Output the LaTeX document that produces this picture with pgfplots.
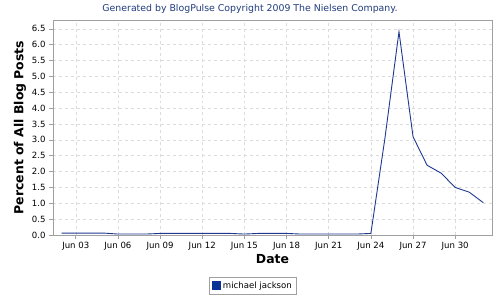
\documentclass[border=0pt]{standalone}
\usepackage{fontspec}
\setmainfont{DejaVu Sans}
\usepackage{pgfplots}
\pgfplotsset{compat=1.18}
\definecolor{titleblue}{RGB}{32,60,125}
\definecolor{lineblue}{RGB}{30,55,145}
\definecolor{legblue}{RGB}{10,50,150}
\definecolor{gridgray}{RGB}{220,220,220}
\definecolor{framegray}{RGB}{160,160,160}
\begin{document}
\begin{tikzpicture}
\path[use as bounding box] (0,0) rectangle (500bp,300bp);
\node[text=titleblue, font=\fontsize{9.4}{11}\selectfont] at (250bp,291bp) {Generated by BlogPulse Copyright 2009 The Nielsen Company.};
\begin{axis}[
  at={(53bp,65bp)}, anchor=south west,
  scale only axis, width=439bp, height=215bp,
  xmin=1.38, xmax=32.62, ymin=0, ymax=6.78,
  xtick={3,6,9,12,15,18,21,24,27,30},
  xticklabels={Jun 03,Jun 06,Jun 09,Jun 12,Jun 15,Jun 18,Jun 21,Jun 24,Jun 27,Jun 30},
  ytick={0,0.5,...,6.5},
  yticklabel style={/pgf/number format/.cd, fixed, fixed zerofill, precision=1},
  /pgf/number format/assume math mode=true,
  ticklabel style={font=\fontsize{8.6}{10}\selectfont},
  tick align=outside, major tick length=4bp,
  tick style={framegray, line width=0.6pt},
  xtick pos=bottom, ytick pos=left,
  axis line style={framegray, line width=0.8pt},
  grid=major,
  major grid style={gridgray, dashed, line width=0.5pt},
  xlabel={Date}, ylabel={Percent of All Blog Posts},
  label style={font=\bfseries\fontsize{12.5}{14}\selectfont},
  xlabel style={yshift=3bp},
  ylabel style={yshift=-1bp},
  legend style={at={(0.4555,-0.195)}, anchor=north, draw=framegray, font=\fontsize{8.6}{10}\selectfont, inner sep=2.5pt, row sep=0pt},
  legend image code/.code={\fill[legblue] (0bp,-4bp) rectangle (8bp,4bp);},
]
\addplot[lineblue, line width=0.9pt] coordinates {
(2,0.06) (3,0.06) (4,0.06) (5,0.06) (6,0.03) (7,0.03) (8,0.03) (9,0.05) (10,0.05)
(11,0.05) (12,0.05) (13,0.05) (14,0.05) (15,0.03) (16,0.05) (17,0.05) (18,0.05)
(19,0.03) (20,0.03) (21,0.03) (22,0.03) (23,0.03) (24,0.05) (25,3.05) (26,6.41)
(27,3.10) (28,2.20) (29,1.95) (30,1.50) (31,1.35) (32,1.02)
};
\addlegendentry{michael jackson}
\end{axis}
\end{tikzpicture}
\end{document}
